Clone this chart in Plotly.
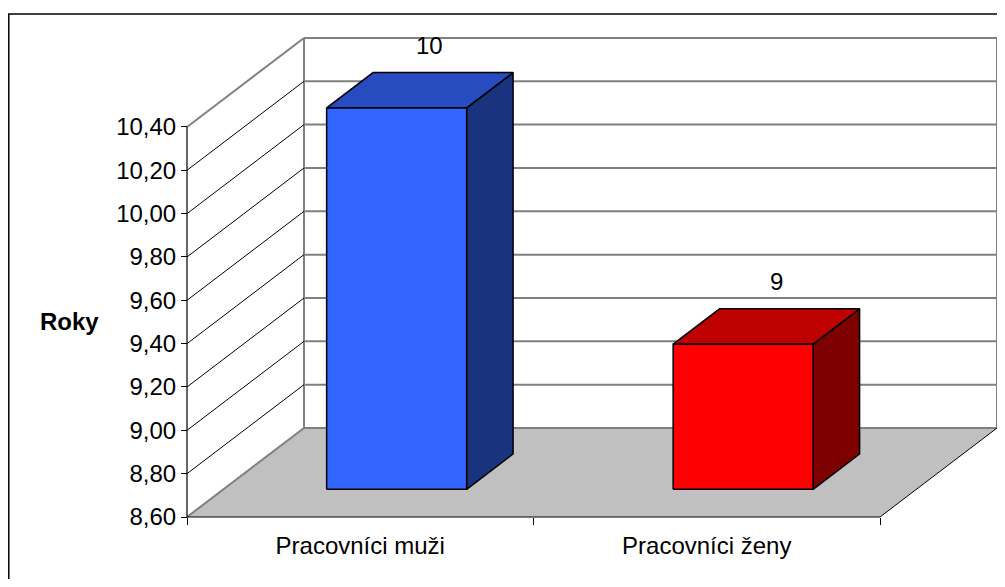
import plotly.graph_objects as go

# ---------------- data ----------------
categories = ["Pracovníci muži", "Pracovníci ženy"]
values = [10.36, 9.27]
value_labels = [f"{v:.0f}" for v in values]
y_tickvals = [8.6, 8.8, 9.0, 9.2, 9.4, 9.6, 9.8, 10.0, 10.2, 10.4]
y_ticktext = ["8,60", "8,80", "9,00", "9,20", "9,40", "9,60", "9,80", "10,00", "10,20", "10,40"]
axis_title = "Roky"

front_colors = ["#3366FF", "#FF0000"]
top_colors = ["#264CBF", "#BF0000"]
side_colors = ["#19337F", "#7F0000"]

# ---------------- style / geometry ----------------
PAGE_OFF = 8                  # default body margin of the html page
W, H = 1005 - PAGE_OFF, 587 - 2 * PAGE_OFF
PX_CAT = 346.5      # pixels per category slot
PX_UNIT = 216.7     # pixels per value unit
ORIG_X, ORIG_Y = 187 - PAGE_OFF, 517 - PAGE_OFF   # front-left floor corner
DX = 117 / PX_CAT   # oblique depth (category units)
DY = 89 / PX_UNIT   # oblique depth (value units)
F0, F1 = 0.311, 0.708   # bar front/back depth fractions
BAR_W = 0.404
FONT = "Liberation Sans, Arial, sans-serif"

ncat = len(categories)
ymin, ymax = y_tickvals[0], y_tickvals[-1]
x_range = [-ORIG_X / PX_CAT, (W - ORIG_X) / PX_CAT]
y_range = [ymin - (H - ORIG_Y) / PX_UNIT, ymin + ORIG_Y / PX_UNIT]

fig = go.Figure()

def poly(xs, ys, fill, lc="black", lw=1.5):
    fig.add_trace(go.Scatter(x=xs + [xs[0]], y=ys + [ys[0]], mode="lines", fill="toself",
                             fillcolor=fill, line=dict(color=lc, width=lw),
                             hoverinfo="skip", showlegend=False))

def lines(segs, color, width):
    xs, ys = [], []
    for (x0, y0, x1, y1) in segs:
        xs += [x0, x1, None]
        ys += [y0, y1, None]
    fig.add_trace(go.Scatter(x=xs, y=ys, mode="lines", line=dict(color=color, width=width),
                             hoverinfo="skip", showlegend=False))

# floor
fig.add_trace(go.Scatter(x=[0, ncat, ncat + DX, DX, 0], y=[ymin, ymin, ymin + DY, ymin + DY, ymin],
                         mode="lines", fill="toself", fillcolor="#C0C0C0", line=dict(width=0),
                         hoverinfo="skip", showlegend=False))

# back wall gridlines + verticals
back = [(DX, v + DY, ncat + DX, v + DY) for v in y_tickvals]
back += [(DX, ymin + DY, DX, ymax + DY), (ncat + DX, ymin + DY, ncat + DX, ymax + DY)]
lines(back, "#808080", 2)

# side wall diagonals
lines([(0, v, DX, v + DY) for v in y_tickvals[1:-1]], "black", 1)
lines([(0, ymin, DX, ymin + DY), (0, ymax, DX, ymax + DY)], "#808080", 2)

# floor right edge, front edges
lines([(ncat, ymin, ncat + DX, ymin + DY)], "black", 1)
lines([(0, ymin, 0, ymax), (0, ymin, ncat, ymin)], "black", 1.2)

# bars
annotations = []
for i, v in enumerate(values):
    c = i + 0.5
    xl = c - BAR_W / 2 + F0 * DX
    xr = c + BAR_W / 2 + F0 * DX
    yb = ymin + F0 * DY
    yt = v + F0 * DY
    ddx = (F1 - F0) * DX
    ddy = (F1 - F0) * DY
    poly([xr, xr + ddx, xr + ddx, xr], [yb, yb + ddy, yt + ddy, yt], side_colors[i])
    poly([xl, xr, xr + ddx, xl + ddx], [yt, yt, yt + ddy, yt + ddy], top_colors[i])
    poly([xl, xr, xr, xl], [yb, yb, yt, yt], front_colors[i])
    annotations.append(dict(x=c + (F0 + F1) / 2 * DX, y=v + F1 * DY, text=value_labels[i],
                            showarrow=False, xshift=10, yshift=27,
                            font=dict(size=24, color="black", family=FONT)))

annotations.append(dict(x=0, y=(ymin + ymax) / 2, text=f"<b>{axis_title}</b>", showarrow=False,
                        xanchor="right", xshift=-86, font=dict(size=24, color="black", family=FONT)))

fig.update_layout(
    width=W, height=H,
    margin=dict(l=0, r=0, t=0, b=0, pad=0),
    paper_bgcolor="white", plot_bgcolor="white",
    showlegend=False,
    hovermode=False,
    font=dict(family=FONT, size=24, color="black"),
    annotations=annotations,
    shapes=[dict(type="rect", xref="paper", yref="paper", x0=0.8 / W, x1=1.05, y0=-0.05,
                 y1=1 - (14 - PAGE_OFF) / H,
                 line=dict(color="black", width=1.5), layer="above")],
    xaxis=dict(range=x_range, anchor="free", position=(H - ORIG_Y) / H,
               showgrid=False, zeroline=False, showline=False,
               tickmode="array", tickvals=[i + 0.5 for i in range(ncat)], ticktext=categories,
               ticks="", ticklabelstandoff=12, tickfont=dict(size=24, color="black"),
               minor=dict(tickmode="array", tickvals=list(range(ncat + 1)), ticks="outside",
                          ticklen=7, tickcolor="black", tickwidth=1, showgrid=False)),
    yaxis=dict(range=y_range, anchor="free", position=ORIG_X / W,
               showgrid=False, zeroline=False, showline=False,
               tickmode="array", tickvals=y_tickvals, ticktext=y_ticktext,
               ticks="outside", ticklen=6, tickcolor="black", tickwidth=1,
               tickfont=dict(size=24, color="black")),
)

fig.write_html("out.html")
